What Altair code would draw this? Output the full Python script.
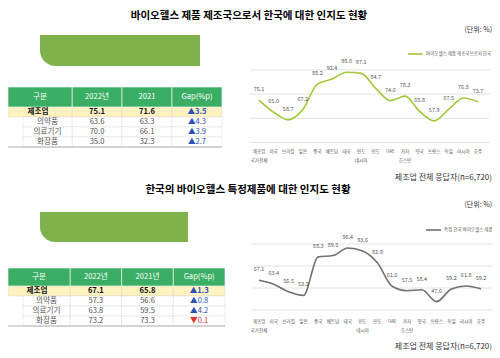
import altair as alt
import pandas as pd

# ---------------- data ----------------
title1 = "바이오헬스 제품 제조국으로서 한국에 대한 인지도 현황"
title2 = "한국의 바이오헬스 특정제품에 대한 인지도 현황"
unit_note = "(단위: %)"
resp_note = "제조업 전체 응답자(n=6,720)"

countries = ["제조업\n국가전체", "미국", "브라질", "일본", "중국", "베트남", "태국",
             "인도\n네시아", "인도", "UAE", "카자\n흐스탄", "영국", "프랑스", "독일",
             "러시아", "호주"]
values1 = [75.1, 65.0, 58.7, 67.2, 88.2, 92.4, 98.0, 97.1, 84.7, 74.6, 78.3,
           65.8, 57.9, 67.5, 76.8, 73.7]
values2 = [67.1, 63.4, 56.5, 53.2, 88.3, 89.5, 96.4, 93.6, 82.9, 61.6, 57.5,
           58.4, 47.6, 59.2, 61.8, 59.2]
series1 = "바이오헬스 제품 제조국으로서 한국"
series2 = "특정 한국 바이오헬스 제품"

table_rows = ["제조업", "의약품", "의료기기", "화장품"]
t1_cols = ["구분", "2022년", "2021", "Gap(%p)"]
t1_2022 = [75.1, 63.6, 70.0, 35.0]
t1_2021 = [71.6, 63.3, 66.1, 32.3]
t1_gap = [3.5, 4.3, 3.9, 2.7]
t2_cols = ["구분", "2022년", "2021년", "Gap(%p)"]
t2_2022 = [67.1, 57.3, 63.8, 73.2]
t2_2021 = [65.8, 56.6, 59.5, 73.3]
t2_gap = [1.3, 0.8, 4.2, -0.1]

# ---------------- styles ----------------
FONT = "Noto Sans CJK KR"
GREEN_LINE = "#a2c83c"
GRAY_LINE = "#707070"
HEADER = "#3aae65"
BANNER = "#80b24c"
YELLOW = "#fdf2c0"
BLUE = "#2f4fb8"
RED = "#e0322d"
TFS = 7.6


def text_layer(text, x, y, size, weight="normal", align="center", color="#000"):
    return alt.Chart(pd.DataFrame({"t": [text]})).mark_text(
        font=FONT, fontSize=size, fontWeight=weight, align=align,
        baseline="middle", color=color
    ).encode(x=alt.value(x), y=alt.value(y), text="t:N")


def banner(x, x2, y, y2):
    return alt.Chart(pd.DataFrame({"b": [0]})).mark_rect(
        color=BANNER, cornerRadiusBottomLeft=16
    ).encode(x=alt.value(x), x2=alt.value(x2), y=alt.value(y), y2=alt.value(y2))


def table(cols, v22, v21, gaps, x0, xl, x1, yh0, yh1, yr1):
    vcols = cols[1:]
    xs = alt.Scale(domain=vcols, range=[xl, x1], paddingInner=0, paddingOuter=0)
    ys = alt.Scale(domain=table_rows, range=[yh1, yr1], paddingInner=0, paddingOuter=0)
    recs = []
    for i, r in enumerate(table_rows):
        g = gaps[i]
        gtxt = ("▲" if g >= 0 else "▼") + f"{abs(g):.1f}"
        vk = "vm" if i == 0 else "v"
        recs += [
            {"row": r, "col": vcols[0], "txt": f"{v22[i]:.1f}", "kind": vk},
            {"row": r, "col": vcols[1], "txt": f"{v21[i]:.1f}", "kind": vk},
            {"row": r, "col": vcols[2], "txt": gtxt, "kind": "up" if g >= 0 else "down"},
        ]
    cells = pd.DataFrame(recs)
    rows_df = pd.DataFrame({"row": table_rows})
    hdr = pd.DataFrame({"col": vcols})
    X = alt.X("col:N", scale=xs, axis=None)
    Y = alt.Y("row:N", scale=ys, axis=None)
    main = alt.datum.row == table_rows[0]
    sub = alt.datum.row != table_rows[0]
    col_scale = alt.Scale(domain=["vm", "v", "up", "down"],
                          range=["#111111", "#555555", BLUE, RED])

    cell_rect = alt.Chart(cells).mark_rect(
        stroke="#c8c8c8", strokeWidth=0.5, strokeDash=[1.5, 1]
    ).encode(x=X, y=Y, fill=alt.condition(main, alt.value(YELLOW), alt.value("white")))
    lab_main = alt.Chart(rows_df).transform_filter(main).mark_rect(
        fill=YELLOW, stroke="#c8c8c8", strokeWidth=0.5, strokeDash=[1.5, 1]
    ).encode(x=alt.value(x0), x2=alt.value(xl), y=Y)
    lab_sub = alt.Chart(rows_df).transform_filter(sub).mark_rect(
        fill="white", stroke="#c8c8c8", strokeWidth=0.5, strokeDash=[1.5, 1]
    ).encode(x=alt.value(x0 + 15), x2=alt.value(xl), y=Y)
    hdr_rect = alt.Chart(hdr).mark_rect(fill=HEADER, stroke="white", strokeWidth=0.6).encode(
        x=X, y=alt.value(yh0), y2=alt.value(yh1))
    hdr_lab_rect = alt.Chart(pd.DataFrame({"col": [cols[0]]})).mark_rect(
        fill=HEADER, stroke="white", strokeWidth=0.6
    ).encode(x=alt.value(x0), x2=alt.value(xl), y=alt.value(yh0), y2=alt.value(yh1))
    hdr_txt = alt.Chart(hdr).mark_text(font=FONT, fontSize=TFS, color="white").encode(
        x=X, y=alt.value((yh0 + yh1) / 2), text="col:N")
    hdr_lab_txt = alt.Chart(pd.DataFrame({"col": [cols[0]]})).mark_text(
        font=FONT, fontSize=TFS, color="white"
    ).encode(x=alt.value((x0 + xl) / 2), y=alt.value((yh0 + yh1) / 2), text="col:N")
    txt_main = alt.Chart(cells).transform_filter(main).mark_text(
        font=FONT, fontSize=TFS, fontWeight="bold"
    ).encode(x=X, y=Y, text="txt:N", color=alt.Color("kind:N", scale=col_scale, legend=None))
    txt_sub = alt.Chart(cells).transform_filter(sub).mark_text(
        font=FONT, fontSize=TFS
    ).encode(x=X, y=Y, text="txt:N", color=alt.Color("kind:N", scale=col_scale, legend=None))
    rl_main = alt.Chart(rows_df).transform_filter(main).mark_text(
        font=FONT, fontSize=TFS, fontWeight="bold", color="#111"
    ).encode(x=alt.value((x0 + xl) / 2 - 2), y=Y, text="row:N")
    rl_sub = alt.Chart(rows_df).transform_filter(sub).mark_text(
        font=FONT, fontSize=TFS, color="#555"
    ).encode(x=alt.value((x0 + 15 + xl) / 2), y=Y, text="row:N")
    bottom = alt.Chart(pd.DataFrame({"b": [0]})).mark_rule(color="#a0a0a0", strokeWidth=0.8).encode(
        x=alt.value(x0), x2=alt.value(x1), y=alt.value(yr1))
    return alt.layer(cell_rect, lab_main, lab_sub, hdr_rect, hdr_lab_rect, hdr_txt,
                     hdr_lab_txt, txt_main, txt_sub, rl_main, rl_sub, bottom)


def line_chart(vals, series, color, xr, yr, grid_x, label_y, legend_xy):
    df = pd.DataFrame({"country": countries, "value": vals, "series": series})
    xs = alt.Scale(type="point", domain=countries, range=xr, padding=0)
    ys = alt.Scale(domain=[40, 100], range=yr, zero=False, nice=False)
    X = alt.X("country:N", scale=xs, axis=None, sort=None)
    Y = alt.Y("value:Q", scale=ys, axis=None)
    grid = alt.Chart(pd.DataFrame({"value": [40, 60, 80, 100]})).mark_rule(
        color="#dcdcdc", strokeWidth=0.8
    ).encode(y=Y, x=alt.value(grid_x[0]), x2=alt.value(grid_x[1]))
    line = alt.Chart(df).mark_line(interpolate="monotone", strokeWidth=1.6).encode(
        x=X, y=Y,
        color=alt.Color("series:N", scale=alt.Scale(domain=[series], range=[color]),
                        legend=alt.Legend(orient="none", legendX=legend_xy[0],
                                          legendY=legend_xy[1], title=None,
                                          symbolType="stroke", symbolSize=225,
                                          symbolStrokeWidth=1.6, labelFont=FONT,
                                          labelFontSize=4.5, labelColor="#555",
                                          labelOffset=2, padding=0)))
    labels = alt.Chart(df).mark_text(dy=-11, fontSize=5.5, font=FONT, color="#555").encode(
        x=X, y=Y, text=alt.Text("value:Q", format=".1f"))
    cats = alt.Chart(df).mark_text(fontSize=4.6, font=FONT, color="#555", lineBreak="\n",
                                   baseline="top", lineHeight=9).encode(
        x=X, y=alt.value(label_y), text="country:N")
    return alt.layer(grid, line, labels, cats)


layers = [
    text_layer(title1, 241, 8, 10.5, weight="bold"),
    banner(32, 192, 27, 58),
    table(t1_cols, t1_2022, t1_2021, t1_gap, 0, 64, 214, 79, 99, 139),
    line_chart(values1, series1, GREEN_LINE, [251, 470], [134.5, 61.9], [242, 482], 140.5, (399, 37.5)),
    text_layer(unit_note, 484, 22, 7, align="right", color="#333"),
    text_layer(resp_note, 484, 170, 8, align="right", color="#333"),
    text_layer(title2, 240, 182, 10.5, weight="bold"),
    banner(32, 180, 204, 234),
    table(t2_cols, t2_2022, t2_2021, t2_gap, 0, 62, 217, 260, 278, 318),
    line_chart(values2, series2, GRAY_LINE, [251, 473], [302, 236], [244, 484], 310.5, (417, 213.5)),
    text_layer(unit_note, 484, 197, 7, align="right", color="#333"),
    text_layer(resp_note, 484, 339, 8, align="right", color="#333"),
]

chart = alt.layer(*layers).resolve_scale(
    x="independent", y="independent", color="independent"
).properties(
    width=484, height=342, padding=0,
    autosize=alt.AutoSizeParams(type="none"),
).configure_view(stroke=None)

chart.save("out.html", embed_options={"renderer": "svg", "actions": False})
